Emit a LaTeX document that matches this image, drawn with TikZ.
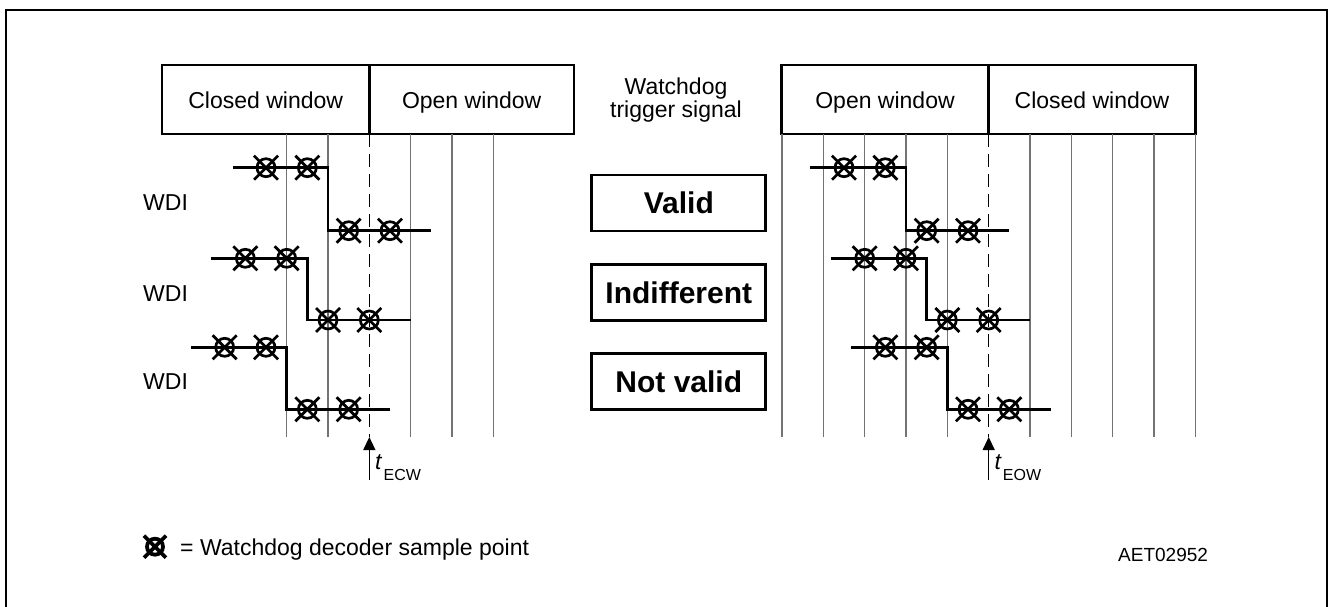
\documentclass[tikz,border=0pt]{standalone}
\usepackage{fontspec}
\setmainfont{Liberation Sans}
\usetikzlibrary{arrows.meta}
\begin{document}
\begin{tikzpicture}[x=1pt,y=-1pt,
  wave/.style={line width=2.7pt, line join=miter},
  boxline/.style={line width=2.7pt},
  gridline/.style={line width=1.3pt, draw=black!55},
  dashline/.style={line width=1.2pt, dash pattern=on 13pt off 7pt},
  lbl/.style={font=\fontsize{23}{23}\selectfont, inner sep=0pt},
  verdict/.style={font=\fontsize{30}{30}\selectfont\bfseries, inner sep=0pt},
  spt/.pic={\draw[line width=2.7pt] (0,0) circle[radius=9pt];
            \draw[line width=2.7pt] (-12pt,-12pt) -- (12pt,12pt) (-12pt,12pt) -- (12pt,-12pt);},
  sptbold/.pic={\draw[line width=3.8pt] (0,0) circle[radius=8pt];
            \draw[line width=3.8pt] (-11pt,-11pt) -- (11pt,11pt) (-11pt,11pt) -- (11pt,-11pt);}
]
\useasboundingbox (0,0) rectangle (1329,607);
% outer frame
\draw[line width=2pt] (5.5,612) -- (5.5,10.5) -- (1326.5,10.5) -- (1326.5,612);

% window boxes
\draw[boxline] (162,65) rectangle (574,134);
\draw[boxline] (369.33,65) -- (369.33,134);
\draw[boxline] (781.5,65) rectangle (1195.3,134);
\draw[boxline] (988.67,65) -- (988.67,134);
\node[lbl, anchor=base] (cw1) at (265.7,108.5) {Closed window};
\node[lbl, anchor=base] (ow1) at (471.7,108.5) {Open window};
\node[lbl, anchor=base] (ow2) at (885,108.5) {Open window};
\node[lbl, anchor=base] (cw2) at (1092,108.5) {Closed window};
\node[lbl, anchor=base] (wd1) at (676,95) {Watchdog};
\node[lbl, anchor=base] (wd2) at (676,117.5) {trigger signal};

% WDI labels
\node[lbl, anchor=west] (wdi1) at (143,203) {WDI};
\node[lbl, anchor=west] (wdi2) at (143,293.3) {WDI};
\node[lbl, anchor=west] (wdi3) at (143,381.7) {WDI};

% verdict boxes
\node[verdict, draw, line width=2.7pt, minimum width=174pt, minimum height=56pt] (valid) at (678.8,203) {Valid};
\node[verdict, draw, line width=2.7pt, minimum width=174pt, minimum height=56pt] (indiff) at (678.8,292.5) {Indifferent};
\node[verdict, draw, line width=2.7pt, minimum width=174pt, minimum height=56pt] (notvalid) at (678.8,381.5) {Not valid};

% left timing
\begin{scope}[shift={(369.33,0)}, x=41.33pt]
  \foreach \i in {-2,-1,1,2,3} \draw[gridline] (\i,134) -- (\i,437);
  \draw[dashline] (0,134) -- (0,437);
  % row 1
  \draw[wave] (-3.31,167.7) -- (-1,167.7) -- (-1,230.7) -- (1.5,230.7);
  \foreach \c in {-2.5,-1.5} \pic at (\c,167.7) {spt};
  \foreach \c in {-0.5,0.5} \pic at (\c,230.7) {spt};
  % row 2
  \draw[wave] (-3.82,258.3) -- (-1.5,258.3) -- (-1.5,320) -- (1,320);
  \foreach \c in {-3,-2} \pic at (\c,258.3) {spt};
  \foreach \c in {-1,0} \pic at (\c,320) {spt};
  % row 3
  \draw[wave] (-4.31,347.3) -- (-2,347.3) -- (-2,409.3) -- (0.5,409.3);
  \foreach \c in {-3.5,-2.5} \pic at (\c,347.3) {spt};
  \foreach \c in {-1.5,-0.5} \pic at (\c,409.3) {spt};
\end{scope}

% right timing
\begin{scope}[shift={(988.67,0)}, x=41.33pt]
  \foreach \i in {-5,-4,-3,-2,-1,1,2,3,4,5} \draw[gridline] (\i,134) -- (\i,437);
  \draw[dashline] (0,134) -- (0,437);
  % row 1
  \draw[wave] (-4.32,167.7) -- (-2,167.7) -- (-2,230.7) -- (0.5,230.7);
  \foreach \c in {-3.5,-2.5} \pic at (\c,167.7) {spt};
  \foreach \c in {-1.5,-0.5} \pic at (\c,230.7) {spt};
  % row 2
  \draw[wave] (-3.82,258.3) -- (-1.5,258.3) -- (-1.5,320) -- (1,320);
  \foreach \c in {-3,-2} \pic at (\c,258.3) {spt};
  \foreach \c in {-1,0} \pic at (\c,320) {spt};
  % row 3
  \draw[wave] (-3.33,347.3) -- (-1,347.3) -- (-1,409.3) -- (1.5,409.3);
  \foreach \c in {-2.5,-1.5} \pic at (\c,347.3) {spt};
  \foreach \c in {-0.5,0.5} \pic at (\c,409.3) {spt};
\end{scope}

% time markers
\coordinate (ecwtip) at (369.33,437);
\coordinate (ecwbase) at (369.33,480);
\coordinate (eowtip) at (988.67,437);
\coordinate (eowbase) at (988.67,480);
\draw[line width=1.3pt, -{Triangle[length=13pt,width=12pt]}] (ecwbase) -- (ecwtip);
\draw[line width=1.3pt, -{Triangle[length=13pt,width=12pt]}] (eowbase) -- (eowtip);
\node[lbl, anchor=base west] (tecw) at (375,469) {\itshape t\normalfont\kern2pt\raisebox{-11pt}{\fontsize{16}{16}\selectfont ECW}};
\node[lbl, anchor=base west] (teow) at (994.3,469) {\itshape t\normalfont\kern2pt\raisebox{-11pt}{\fontsize{16}{16}\selectfont EOW}};

% legend
\pic at (155,546.7) {sptbold};
\node[lbl, anchor=base west] (legend) at (180,555) {= Watchdog decoder sample point};
\node[anchor=base west, inner sep=0pt, font=\fontsize{19}{19}\selectfont] (code) at (1118,561) {AET02952};
\end{tikzpicture}
\end{document}
